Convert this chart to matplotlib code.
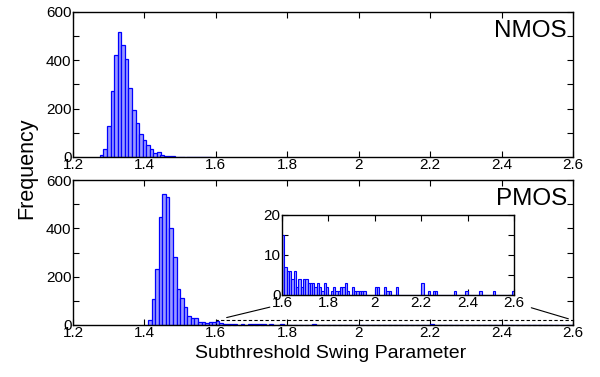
import numpy as np
import matplotlib
matplotlib.use("Agg")
import matplotlib.pyplot as plt
from matplotlib.patches import Rectangle, ConnectionPatch
from matplotlib.ticker import MultipleLocator, FormatStrFormatter

plt.rcParams['font.family'] = ['Liberation Sans', 'DejaVu Sans']

# ---- data ----
bin_width = 0.01
nmos_first_center = 1.28
nmos_counts = [10, 35, 130, 272, 421, 517, 462, 407, 287, 196, 142, 97, 69, 48,
               35, 17, 22, 7, 6, 3, 3, 2, 2, 1, 1, 1, 1, 1, 0, 1, 0]
pmos_first_center = 1.415
pmos_main_counts = [21, 108, 232, 448, 542, 531, 401, 280, 149, 112, 73, 38,
                    27, 29, 14, 14, 7, 14, 14]
# tail from 1.60 to 2.60 (shown in inset)
pmos_tail_counts = [15, 7, 6, 6, 4, 6, 2, 4, 2, 4,
                    4, 3, 3, 3, 2, 3, 2, 1, 3, 2,
                    0, 1, 2, 1, 1, 2, 2, 3, 1, 0,
                    2, 1, 1, 1, 1, 1, 0, 0, 0, 0,
                    2, 2, 0, 0, 2, 1, 1, 0, 0, 2,
                    0, 0, 0, 0, 0, 0, 0, 0, 0, 0,
                    3, 0, 0, 1, 0, 1, 1, 0, 0, 0,
                    0, 0, 0, 0, 1, 0, 0, 0, 0, 1,
                    0, 0, 0, 0, 0, 1, 0, 0, 0, 0,
                    0, 1, 0, 0, 0, 0, 0, 0, 0, 1]
xticks = [1.2, 1.4, 1.6, 1.8, 2.0, 2.2, 2.4, 2.6]
inset_xticks = [1.6, 1.8, 2.0, 2.2, 2.4, 2.6]

pmos_counts = pmos_main_counts + pmos_tail_counts
nmos_x = nmos_first_center + bin_width * np.arange(len(nmos_counts))
pmos_x = pmos_first_center + bin_width * np.arange(len(pmos_counts))

face = '#9a9aff'
edge = '#0000ff'

fig = plt.figure(figsize=(6, 3.77), dpi=100)
W, H = 600.0, 377.0
ax1 = fig.add_axes([73 / W, 1 - 157 / H, 500 / W, 145 / H])
ax2 = fig.add_axes([73 / W, 1 - 325 / H, 500 / W, 145 / H])
axin = fig.add_axes([282 / W, 1 - 295 / H, 232 / W, 80 / H])

def style(ax, xt, ymaj, ymin, fs):
    ax.set_xticks(xt)
    ax.xaxis.set_major_formatter(FormatStrFormatter('%g'))
    ax.yaxis.set_major_locator(MultipleLocator(ymaj))
    ax.yaxis.set_minor_locator(MultipleLocator(ymin))
    ax.tick_params(which='both', direction='in', top=True, right=True,
                   labelsize=fs, pad=1.0, width=0.8)
    ax.tick_params(which='major', length=4)
    ax.tick_params(which='minor', length=4)
    for s in ax.spines.values():
        s.set_linewidth(1.0)

for ax, xs, cs, lab, ty in [(ax1, nmos_x, nmos_counts, 'NMOS', 20),
                            (ax2, pmos_x, pmos_counts, 'PMOS', 188)]:
    ax.bar(xs, cs, width=bin_width, color=face, edgecolor=edge, linewidth=0.9,
           zorder=2)
    ax.set_xlim(1.2, 2.6)
    ax.set_ylim(0, 600)
    style(ax, xticks, 200, 100, 11)
    fig.text(567 / W, 1 - ty / H, lab, ha='right', va='top', fontsize=17.5)

axin.bar(pmos_x, pmos_counts, width=bin_width, color=face, edgecolor=edge,
         linewidth=0.8, zorder=2)
axin.set_xlim(1.6, 2.6)
axin.set_ylim(0, 20)
style(axin, inset_xticks, 10, 5, 11)
for t in axin.get_xticklabels():
    t.set_bbox(dict(facecolor='white', edgecolor='none', pad=0.5))

# dashed zoom box in PMOS panel
ax2.add_patch(Rectangle((1.6, 0), 1.0, 20, fill=False, linestyle=(0, (3, 2)),
                        edgecolor='black', linewidth=0.8, zorder=3, clip_on=False))
c1 = ConnectionPatch(xyA=(1.6, 20), coordsA=ax2.transData,
                     xyB=(0, -0.115), coordsB=axin.transAxes,
                     arrowstyle='-', shrinkA=8, shrinkB=9, color='black', lw=0.8)
c2 = ConnectionPatch(xyA=(2.6, 20), coordsA=ax2.transData,
                     xyB=(1, -0.095), coordsB=axin.transAxes,
                     arrowstyle='-', shrinkA=3.5, shrinkB=13, color='black', lw=0.8)
fig.add_artist(c1)
fig.add_artist(c2)

fig.text(27 / W, 1 - 168 / H, 'Frequency', rotation=90, ha='center',
         va='center', fontsize=15.5)
fig.text(331 / W, 1 - 353 / H, 'Subthreshold Swing Parameter', ha='center',
         va='center', fontsize=14)

fig.savefig('out.png', dpi=100)
